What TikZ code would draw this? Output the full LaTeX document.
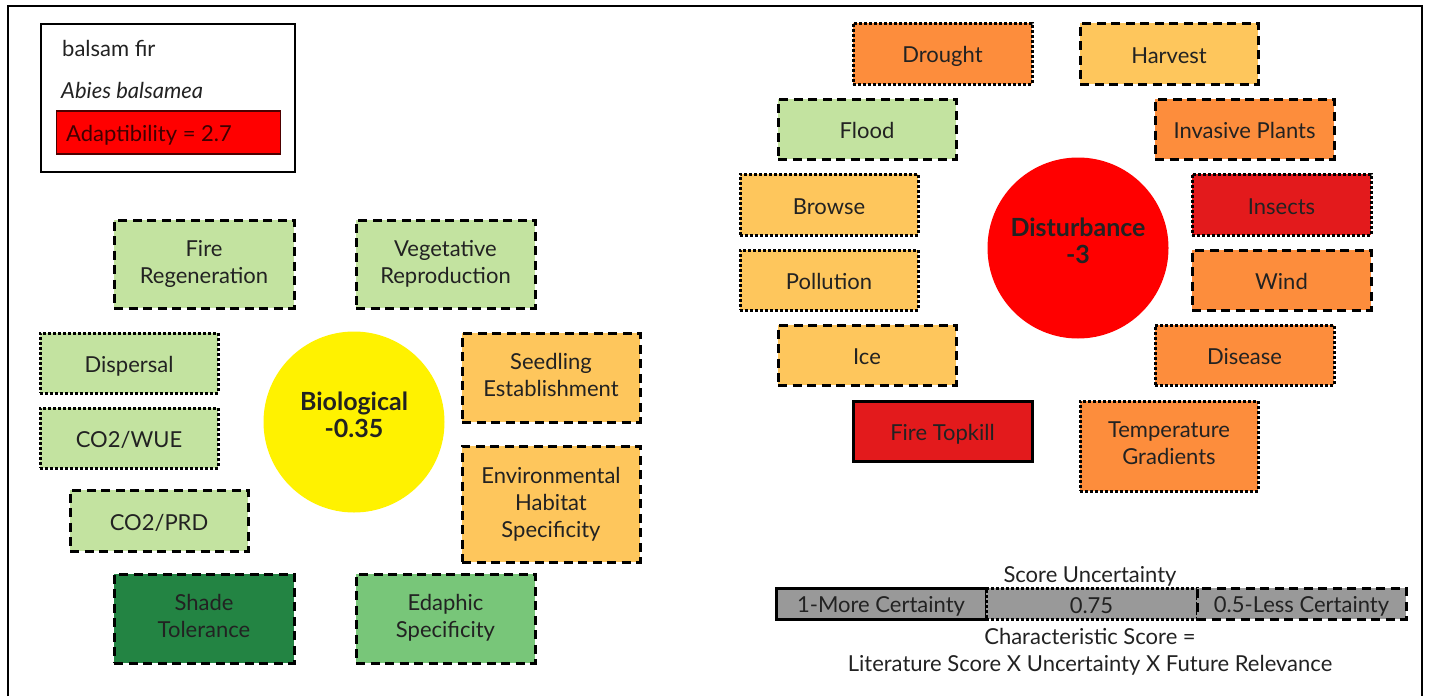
\documentclass[tikz,border=0pt]{standalone}
\usepackage{fontspec}
\setmainfont{Lato}
\definecolor{lgreen}{HTML}{C3E3A0}
\definecolor{mgreen}{HTML}{78C679}
\definecolor{dgreen}{HTML}{238443}
\definecolor{lorange}{HTML}{FEC65C}
\definecolor{orng}{HTML}{FD8D3C}
\definecolor{rd}{HTML}{E31A1C}
\definecolor{txt}{HTML}{222222}
\definecolor{gry}{HTML}{999999}
\newcommand\mystrut{\rule[-3pt]{0pt}{25pt}}
\newcommand\mystrutb{\rule[-5pt]{0pt}{27pt}}
\begin{document}
\begin{tikzpicture}[x=1pt,y=-1pt,
  every node/.style={font=\fontsize{22}{27}\selectfont, text=txt},
  box/.style={draw=black, line width=3pt, align=center, inner sep=2pt, anchor=center,
    execute at begin node=\mystrut, execute at end node=\mystrut},
  dsh/.style={dash pattern=on 9pt off 5.5pt},
  dts/.style={dash pattern=on 3pt off 2pt},
  sld/.style={},
  circ/.style={circle, draw=none, minimum size=181pt, inner sep=0pt},
  ctxt/.style={align=center, font=\fontsize{25}{27}\selectfont\bfseries, execute at begin node=\mystrut, execute at end node=\mystrut},
  lbl/.style={inner sep=0pt, anchor=west, execute at begin node=\mystrut}
]
\useasboundingbox (0,0) rectangle (1429,696);
% outer frame
\draw[line width=2pt] (8,696) -- (8,6) -- (1422,6) -- (1422,696);

% legend top-left
\node[draw=black, line width=2pt, minimum width=254pt, minimum height=148pt, anchor=north west, inner sep=0pt] (legend) at (40,23) {};
\node[lbl] (species) at (62,47) {balsam fir};
\node[lbl] (latin) at (61,89) {\itshape Abies balsamea};
\node[draw=black!70!red, line width=1.2pt, fill=red, minimum width=224pt, minimum height=43pt, anchor=west, inner sep=0pt] (adapt) at (56,132.5) {};
\node[lbl, text=black!75!red] (adapttxt) at (66,132.5) {Adaptibility = 2.7};

% Biological cluster
\node[circ, fill=yellow] (bio) at (354,422) {};
\node[ctxt] (biotxt) at ([yshift=6pt]bio.center) {Biological\\-0.35};
\node[box, dsh, fill=lgreen, minimum width=180pt, minimum height=88pt, execute at begin node=\mystrutb] (firereg) at (204,264) {Fire\\Regeneration};
\node[box, dsh, fill=lgreen, minimum width=179pt, minimum height=88pt, execute at begin node=\mystrutb] (veg) at (445.5,264) {Vegetative\\Reproduction};
\node[box, dts, fill=lgreen, minimum width=178pt, minimum height=60pt] (disp) at (129,363) {Dispersal};
\node[box, dts, fill=lgreen, minimum width=178pt, minimum height=60pt] (wue) at (129,438) {CO2/WUE};
\node[box, dsh, fill=lgreen, minimum width=178pt, minimum height=61pt] (prd) at (159,520.5) {CO2/PRD};
\node[box, dsh, fill=dgreen, minimum width=180pt, minimum height=89pt, execute at begin node=\mystrutb] (shade) at (204,618.5) {Shade\\Tolerance};
\node[box, dsh, fill=mgreen, minimum width=179pt, minimum height=89pt, execute at begin node=\mystrutb] (edaph) at (445.5,618.5) {Edaphic\\Specificity};
\node[box, dsh, fill=lorange, minimum width=178pt, minimum height=89pt, execute at begin node=\mystrutb] (seed) at (551,377.5) {Seedling\\Establishment};
\node[box, dsh, fill=lorange, minimum width=178pt, minimum height=116pt] (env) at (551,504) {Environmental\\Habitat\\Specificity};

% Disturbance cluster
\node[circ, fill=red] (dist) at (1078,248) {};
\node[ctxt] (disttxt) at ([yshift=6pt]dist.center) {Disturbance\\-3};
\node[box, dts, fill=orng, minimum width=179pt, minimum height=61pt] (drought) at (942.5,53.5) {Drought};
\node[box, dsh, fill=lorange, minimum width=178pt, minimum height=61pt] (harvest) at (1169,53.5) {Harvest};
\node[box, dsh, fill=lgreen, minimum width=178pt, minimum height=60pt] (flood) at (867,129) {Flood};
\node[box, dsh, fill=orng, minimum width=179pt, minimum height=60pt] (invasive) at (1244.5,129) {Invasive Plants};
\node[box, dts, fill=lorange, minimum width=178pt, minimum height=61pt] (browse) at (829,204.5) {Browse};
\node[box, dts, fill=rd, minimum width=179pt, minimum height=61pt] (insects) at (1281.5,204.5) {Insects};
\node[box, dts, fill=lorange, minimum width=178pt, minimum height=60pt] (pollution) at (829,280) {Pollution};
\node[box, dsh, fill=orng, minimum width=179pt, minimum height=60pt] (wind) at (1281.5,280) {Wind};
\node[box, dsh, fill=lorange, minimum width=178pt, minimum height=60pt] (ice) at (867,355) {Ice};
\node[box, dts, fill=orng, minimum width=179pt, minimum height=60pt] (disease) at (1244.5,355) {Disease};
\node[box, sld, fill=rd, minimum width=179pt, minimum height=60pt] (topkill) at (942.5,431) {Fire Topkill};
\node[box, dts, fill=orng, minimum width=178pt, minimum height=90pt, execute at begin node=\mystrutb] (temp) at (1169,446) {Temperature\\Gradients};

% bottom legend
\node[inner sep=0pt, execute at begin node=\mystrut] (sutitle) at (1090,573) {Score Uncertainty};
\node[box, sld, fill=gry, minimum width=210pt, minimum height=31pt, inner sep=0pt] (more) at (881,603.5) {1-More Certainty};
\node[box, dts, fill=gry, minimum width=211pt, minimum height=31pt, inner sep=0pt] (mid) at (1091.5,603.5) {0.75};
\node[box, dsh, fill=gry, minimum width=209pt, minimum height=31pt, inner sep=0pt] (less) at (1301.5,603.5) {0.5-Less Certainty};
\node[inner sep=0pt, execute at begin node=\mystrut] (formula1) at (1090,635) {Characteristic Score =};
\node[inner sep=0pt, execute at begin node=\mystrut] (formula2) at (1090,662) {Literature Score X Uncertainty X Future Relevance};
\end{tikzpicture}
\end{document}
